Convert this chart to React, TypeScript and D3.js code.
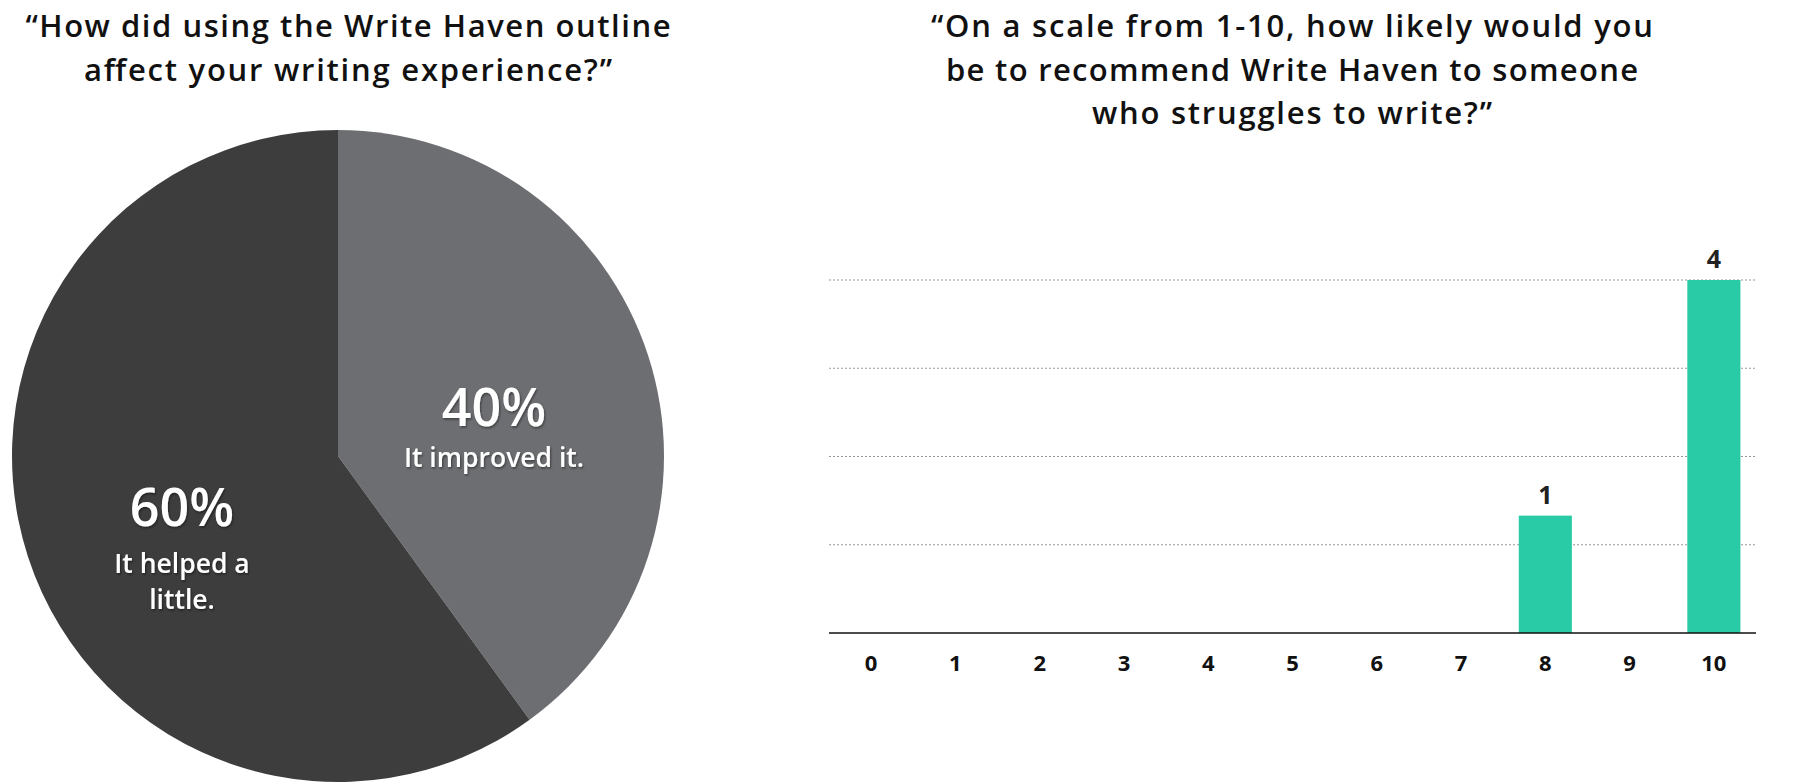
import React from "react";
import * as d3 from "d3";

const W = 1805;
const H = 784;

// Pie data
const pieLabels = ["It improved it.", "It helped a little."];
const pieValues = [40, 60];
const pieLabelLines = [["It improved it."], ["It helped a", "little."]];
const pieColors = ["#6d6e71", "#3d3d3d"];

// Bar data
const scoreCategories = ["0", "1", "2", "3", "4", "5", "6", "7", "8", "9", "10"];
const responseCounts = [0, 0, 0, 0, 0, 0, 0, 0, 1, 0, 4];
const barLevels = [0, 0, 0, 0, 0, 0, 0, 0, 1.33, 0, 4];
const gridTicks = [1, 2, 3, 4];

const leftTitle = ["\u201CHow did using the Write Haven outline", "affect your writing experience?\u201D"];
const leftTitleWidths = [645, 528];
const rightTitle = [
  "\u201COn a scale from 1-10, how likely would you",
  "be to recommend Write Haven to someone",
  "who struggles to write?\u201D",
];
const rightTitleWidths = [722, 692, 400];

const FONT = "'Open Sans', 'Noto Sans', sans-serif";

export default function App() {
  const cx = 338;
  const cy = 456;
  const r = 326;

  const pie = d3.pie<number>().sort(null).value((d) => d)(pieValues);
  const arc = d3.arc<d3.PieArcDatum<number>>().innerRadius(0).outerRadius(r);

  const labelPos = [
    { x: 494, y: 426, gap: 41 },
    { x: 182, y: 526, gap: 47 },
  ];

  const x = d3
    .scaleBand<string>()
    .domain(scoreCategories)
    .range([829, 1756])
    .paddingInner(0.37)
    .paddingOuter(0.185);
  const y = d3.scaleLinear().domain([0, 4]).range([633, 280]);

  return (
    <svg
      width={W}
      height={H}
      style={{ position: "absolute", left: 0, top: 0, background: "#fff" }}
      fontFamily={FONT}
    >
      <defs>
        <filter id="ts" x="-20%" y="-20%" width="140%" height="160%">
          <feDropShadow dx="1" dy="1.5" stdDeviation="1.2" floodColor="#000" floodOpacity="0.45" />
        </filter>
      </defs>
      <rect width={W} height={H} fill="#fff" />

      {/* Left title */}
      {leftTitle.map((t, i) => (
        <text
          key={"lt" + i}
          x={348}
          y={37 + i * 44}
          textAnchor="middle"
          fontSize={31}
          fontWeight={600}
          fill="#111"
          textLength={leftTitleWidths[i]}
          lengthAdjust="spacing"
        >
          {t}
        </text>
      ))}

      {/* Pie */}
      <g transform={`translate(${cx},${cy})`}>
        {pie.map((p, i) => (
          <path key={"s" + i} d={arc(p) || ""} fill={pieColors[i]} />
        ))}
      </g>
      {pie.map((p, i) => (
        <g key={"pl" + i} filter="url(#ts)" fill="#fff" textAnchor="middle">
          <text x={labelPos[i].x} y={labelPos[i].y} fontSize={52} fontWeight={600}>
            {`${pieValues[i]}%`}
          </text>
          {pieLabelLines[i].map((ln, j) => (
            <text
              key={j}
              x={labelPos[i].x}
              y={labelPos[i].y + labelPos[i].gap + j * 36}
              fontSize={26.5}
              fontWeight={600}
            >
              {ln}
            </text>
          ))}
        </g>
      ))}

      {/* Right title */}
      {rightTitle.map((t, i) => (
        <text
          key={"rt" + i}
          x={1292}
          y={37 + i * 43.5}
          textAnchor="middle"
          fontSize={31}
          fontWeight={600}
          fill="#111"
          textLength={rightTitleWidths[i]}
          lengthAdjust="spacing"
        >
          {t}
        </text>
      ))}

      {/* Gridlines */}
      {gridTicks.map((t) => (
        <line
          key={"g" + t}
          x1={829}
          x2={1756}
          y1={y(t)}
          y2={y(t)}
          stroke="#999"
          strokeWidth={1}
          strokeDasharray="2,2"
        />
      ))}

      {/* Bars */}
      {scoreCategories.map((c, i) =>
        barLevels[i] > 0 ? (
          <rect
            key={"b" + c}
            x={x(c)}
            y={y(barLevels[i])}
            width={x.bandwidth()}
            height={y(0) - y(barLevels[i])}
            fill="#29caa6"
          />
        ) : null
      )}

      {/* Value labels */}
      {scoreCategories.map((c, i) =>
        responseCounts[i] > 0 ? (
          <text
            key={"v" + c}
            x={(x(c) || 0) + x.bandwidth() / 2}
            y={y(barLevels[i]) - 12}
            textAnchor="middle"
            fontSize={25}
            fontWeight={700}
            fill="#222"
          >
            {responseCounts[i]}
          </text>
        ) : null
      )}

      {/* Axis */}
      <line x1={829} x2={1756} y1={y(0)} y2={y(0)} stroke="#111" strokeWidth={1.5} />
      {scoreCategories.map((c) => (
        <text
          key={"t" + c}
          x={(x(c) || 0) + x.bandwidth() / 2}
          y={y(0) + 38}
          textAnchor="middle"
          fontSize={22}
          fontWeight={700}
          fill="#111"
        >
          {c}
        </text>
      ))}
    </svg>
  );
}
